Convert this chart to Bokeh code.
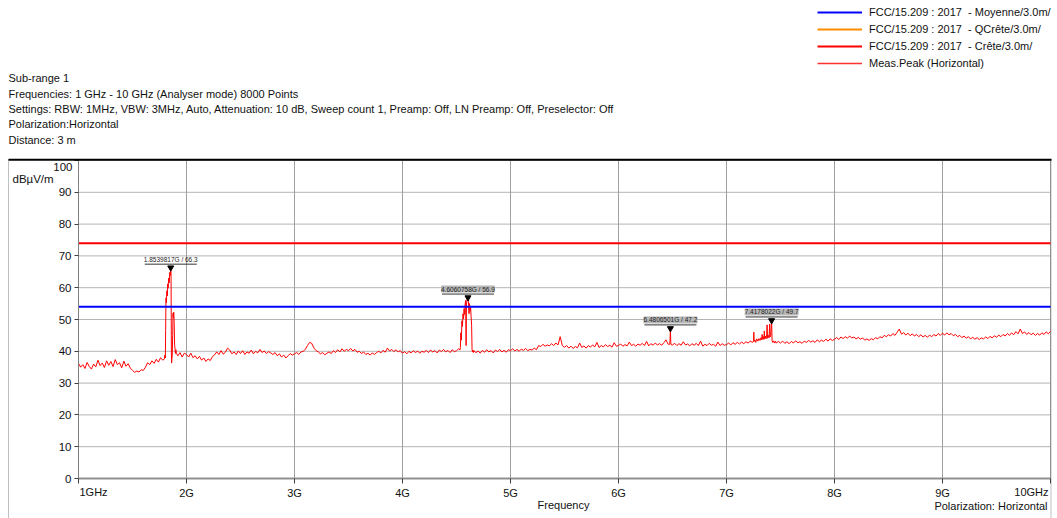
import numpy as np
from bokeh.plotting import figure
from bokeh.models import Label, BoxAnnotation, Legend, LegendItem, FixedTicker
from bokeh.embed import file_html
from bokeh.resources import INLINE

# ---------------- data ----------------
sweep_start_ghz = 1.0
sweep_step_ghz = 0.02
trace_levels = [
    36.2, 35.0, 35.8, 34.6, 36.5, 35.2, 34.4, 36.0, 35.1, 37.2, 35.5, 36.3, 34.9, 37.0, 35.6, 36.8, 35.2, 37.4, 35.8, 36.4, 34.8, 36.9, 35.3, 36.1, 34.7,
    34.0, 33.4, 33.8, 33.5, 34.2, 34.0, 35.0, 36.4, 35.8, 37.0, 36.2, 37.5, 36.6, 38.0, 37.2, 38.5, 60.0, 64.0, 38.0, 51.0, 40.0, 38.6, 39.6, 38.2, 39.4,
    39.0, 38.2, 39.4, 38.0, 38.6, 37.6, 38.4, 37.2, 37.9, 36.8, 37.6, 37.1, 38.3, 38.9, 39.8, 39.0, 40.2, 39.1, 39.7, 41.0, 40.4, 39.2, 39.8, 39.0, 40.1,
    39.3, 40.2, 39.0, 39.8, 39.4, 40.4, 39.2, 40.0, 39.5, 40.6, 39.6, 40.1, 39.3, 39.9, 39.5, 39.0, 39.6, 38.6, 39.2, 38.2, 38.8, 37.9, 38.6, 39.3, 38.8,
    39.2, 39.6, 39.0, 39.8, 40.0, 40.6, 41.8, 42.8, 42.5, 41.0, 40.2, 39.8, 39.2, 39.6, 38.9, 39.4, 39.8, 39.3, 40.2, 39.6, 40.5, 39.8, 40.8, 40.0, 40.6,
    40.2, 40.9, 40.1, 40.6, 39.7, 40.0, 39.3, 39.8, 39.0, 39.4, 38.8, 39.5, 39.0, 39.6, 40.0, 39.5, 40.3, 39.7, 41.0, 40.1, 40.6, 39.9, 40.5, 39.8, 40.2,
    39.4, 39.9, 39.2, 40.0, 39.5, 40.2, 39.6, 40.1, 39.4, 40.0, 39.7, 40.3, 39.6, 40.4, 39.8, 40.2, 39.5, 40.4, 39.9, 40.6, 39.8, 40.3, 39.6, 40.5, 39.9,
    40.2, 40.8, 48.0, 52.0, 54.0, 56.0, 54.0, 45.0, 40.2, 39.6, 40.1, 39.4, 40.3, 39.7, 40.5, 39.8, 40.2, 39.5, 40.4, 39.9, 40.6, 39.8, 40.3, 39.7, 40.5,
    40.2, 40.8, 40.1, 40.6, 40.0, 40.7, 40.3, 40.9, 40.2, 40.6, 40.4, 41.0, 40.5, 41.8, 41.5, 42.2, 41.6, 42.0, 41.7, 42.4, 41.8, 42.6, 42.0, 44.6, 41.8,
    41.3, 41.8, 41.0, 41.6, 40.9, 41.5, 41.1, 42.6, 41.2, 41.7, 41.0, 41.8, 41.3, 42.0, 41.4, 42.8, 41.2, 41.8, 41.4, 42.1, 41.5, 41.9, 41.3, 42.7, 41.6,
    41.8, 42.3, 41.6, 42.1, 41.7, 42.9, 41.8, 42.2, 41.6, 42.3, 41.9, 42.5, 41.8, 43.1, 41.7, 42.4, 41.9, 42.6, 42.0, 42.4, 41.9, 42.7, 43.6, 42.2, 42.5,
    42.0, 42.5, 41.8, 42.4, 41.9, 43.0, 42.0, 42.3, 41.7, 42.4, 41.9, 42.5, 41.8, 43.2, 41.6, 42.2, 41.8, 42.5, 41.9, 42.2, 41.6, 42.9, 41.8, 42.4, 41.9,
    42.1, 42.6, 42.0, 42.7, 42.2, 42.8, 42.3, 42.9, 42.4, 43.0, 42.6, 43.2, 42.8, 46.0, 42.9, 45.3, 43.5, 45.0, 48.3, 44.0, 48.6, 49.7, 43.0, 42.6, 43.1,
    42.6, 43.2, 42.5, 43.0, 42.4, 43.1, 42.6, 43.3, 42.7, 43.0, 42.5, 43.2, 42.8, 43.4, 42.9, 43.3, 42.8, 43.6, 43.0, 43.5, 43.1, 43.8, 43.2, 43.9, 43.4,
    43.8, 44.3, 43.7, 44.5, 44.0, 44.6, 44.1, 44.8, 44.2, 44.5, 43.9, 44.4, 43.8, 44.2, 43.5, 43.9, 43.4, 44.0, 43.6, 44.3, 43.9, 44.6, 44.2, 45.0, 44.6,
    45.2, 44.8, 45.6, 45.0, 46.0, 47.0, 45.4, 45.9, 45.1, 45.7, 44.9, 45.5, 44.8, 45.3, 44.6, 45.2, 44.5, 45.0, 44.4, 45.1, 44.6, 45.3, 44.8, 45.6, 45.0,
    45.7, 45.1, 45.8, 45.2, 45.6, 44.9, 45.3, 44.6, 45.0, 44.3, 44.8, 44.1, 44.6, 43.9, 44.4, 43.8, 44.3, 43.7, 44.2, 43.9, 44.5, 44.0, 44.7, 44.2, 44.9,
    44.4, 45.1, 44.6, 45.3, 44.8, 45.6, 45.0, 45.8, 45.2, 46.2, 45.5, 47.0, 45.6, 46.1, 45.3, 45.9, 45.2, 45.7, 45.0, 45.6, 45.1, 45.8, 45.3, 46.1, 45.5, 46.3,
]

# finer detail around the emissions
pk1_freq = [1.796, 1.800, 1.804, 1.807, 1.810, 1.814, 1.818, 1.822, 1.826, 1.830,
            1.835, 1.840, 1.845, 1.850, 1.8539817, 1.857, 1.860, 1.862, 1.865, 1.868,
            1.872, 1.875, 1.878, 1.882, 1.886, 1.890, 1.894, 1.898, 1.902, 1.906]
pk1_level = [37.6, 38.8, 37.9, 46.5, 56.8, 55.2, 59.0, 57.4, 61.2, 59.8,
             63.0, 61.5, 64.8, 63.9, 66.3, 64.5, 39.5, 36.3, 37.8, 38.6,
             45.0, 52.0, 50.6, 52.3, 49.0, 42.0, 40.6, 39.3, 40.5, 39.4]
pk2_freq = [4.532, 4.536, 4.540, 4.545, 4.550, 4.555, 4.560, 4.565, 4.570, 4.575,
            4.580, 4.585, 4.589, 4.592, 4.596, 4.600, 4.6060758, 4.611, 4.616, 4.620,
            4.625, 4.630, 4.635, 4.640, 4.644, 4.648, 4.652, 4.657]
pk2_level = [40.4, 41.2, 45.8, 43.5, 49.6, 47.8, 51.8, 50.2, 53.4, 51.6,
             54.8, 56.0, 41.8, 54.6, 55.8, 56.4, 56.9, 55.2, 51.8, 55.0,
             52.6, 54.2, 51.0, 48.2, 40.6, 39.8, 40.4, 39.6]
pk3_freq = [6.474, 6.477, 6.4806501, 6.484, 6.487]
pk3_level = [42.2, 43.4, 47.2, 42.8, 42.1]
pk4_freq = [7.246, 7.250, 7.253, 7.256, 7.262, 7.270, 7.280, 7.290, 7.300, 7.310,
            7.320, 7.326, 7.330, 7.334, 7.340, 7.346, 7.350, 7.354, 7.360, 7.366,
            7.372, 7.376, 7.380, 7.388, 7.394, 7.400, 7.404, 7.410, 7.4178022, 7.422,
            7.428, 7.436, 7.444, 7.452]
pk4_level = [42.9, 43.3, 46.0, 43.1, 43.6, 42.8, 43.9, 43.2, 44.0, 43.4,
             44.3, 43.6, 45.3, 43.8, 44.6, 43.7, 46.4, 44.0, 44.8, 43.9,
             45.2, 48.3, 44.1, 45.0, 44.2, 48.6, 44.5, 45.0, 49.7, 43.4,
             42.8, 43.3, 42.6, 43.2]

limit_freq = [1.0, 10.0]
avg_limit = [54.0, 54.0]
qp_limit = [float("nan"), float("nan")]   # no quasi-peak limit above 1 GHz
peak_limit = [74.0, 74.0]

marker_freq = [1.8539817, 4.6060758, 6.4806501, 7.4178022]
marker_level = [66.3, 56.9, 47.2, 49.7]

x_ticks = [1, 2, 3, 4, 5, 6, 7, 8, 9, 10]
x_tick_labels = ["1GHz", "2G", "3G", "4G", "5G", "6G", "7G", "8G", "9G", "10GHz"]
y_ticks = [0, 10, 20, 30, 40, 50, 60, 70, 80, 90, 100]

legend_labels = [
    "FCC/15.209 : 2017 \u00a0- Moyenne/3.0m/",
    "FCC/15.209 : 2017 \u00a0- QCrête/3.0m/",
    "FCC/15.209 : 2017 \u00a0- Crête/3.0m/",
    "Meas.Peak (Horizontal)",
]
header_lines = [
    "Sub-range 1",
    "Frequencies: 1 GHz - 10 GHz (Analyser mode) 8000 Points",
    "Settings: RBW: 1MHz, VBW: 3MHz, Auto, Attenuation: 10 dB, Sweep count 1, Preamp: Off, LN Preamp: Off, Preselector: Off",
    "Polarization:Horizontal",
    "Distance: 3 m",
]

# ---------------- build trace ----------------
base_f = sweep_start_ghz + sweep_step_ghz * np.arange(len(trace_levels))
base_l = np.array(trace_levels, dtype=float)
keep = np.ones(len(base_f), dtype=bool)
segs = [(pk1_freq, pk1_level), (pk2_freq, pk2_level), (pk3_freq, pk3_level), (pk4_freq, pk4_level)]
for f, _ in segs:
    keep &= ~((base_f >= min(f)) & (base_f <= max(f)))
all_f = np.concatenate([base_f[keep]] + [np.array(f) for f, _ in segs])
all_l = np.concatenate([base_l[keep]] + [np.array(l) for _, l in segs])
order = np.argsort(all_f)
trace_f = all_f[order]
trace_l = all_l[order]

# ---------------- figure ----------------
W, H = 1057, 518
L, R, T, B = 78, 1050, 160, 478   # pixel box of the data area 1..10 GHz / 0..100 dB
FONT = "Liberation Sans"
XPX = (R - L) / 9.0
YPX = (B - T) / 100.0


def px(xp):
    return 1 + (xp - L) / XPX


def py(yp):
    return (B - yp) / YPX


p = figure(width=W, height=H, x_range=(px(0), px(W)), y_range=(py(H), py(0)),
           output_backend="svg", toolbar_location=None,
           min_border_left=0, min_border_right=0, min_border_top=0, min_border_bottom=0)
p.outline_line_color = None
p.background_fill_color = "white"
p.border_fill_color = "white"
p.grid.visible = False

# grid lines limited to the data box
x_lo, x_hi = x_ticks[0], x_ticks[-1]
y_lo, y_hi = y_ticks[0], y_ticks[-1]
p.segment(x0=[x_lo] * len(y_ticks), x1=[x_hi] * len(y_ticks), y0=y_ticks, y1=y_ticks,
          line_color="#b4b4b4", line_width=1)
p.segment(x0=x_ticks, x1=x_ticks, y0=[y_lo] * len(x_ticks), y1=[y_hi] * len(x_ticks),
          line_color="#a0a0a0", line_width=1)

# axes drawn inside the canvas at fixed locations
p.xaxis.fixed_location = y_lo
p.xaxis.bounds = (x_lo, x_hi)
p.xaxis.ticker = FixedTicker(ticks=x_ticks, minor_ticks=[])
p.xaxis.major_label_overrides = {t: (lab if x_lo < t < x_hi else "") for t, lab in zip(x_ticks, x_tick_labels)}
p.xaxis.major_tick_out = 5
p.xaxis.major_tick_in = 0
p.xaxis.major_tick_line_color = "#404040"
p.xaxis.minor_tick_line_color = None
p.xaxis.axis_line_color = "#909090"
p.xaxis.axis_line_width = 2
p.xaxis.major_label_standoff = 3
p.xaxis.major_label_text_font = FONT
p.xaxis.major_label_text_font_size = "11px"
p.xaxis.major_label_text_color = "#111111"

p.yaxis.fixed_location = x_lo
p.yaxis.bounds = (y_lo, y_hi)
p.yaxis.ticker = FixedTicker(ticks=y_ticks, minor_ticks=[])
p.yaxis.major_label_overrides = {y_hi: ""}
p.yaxis.major_tick_out = 4
p.yaxis.major_tick_in = 0
p.yaxis.major_tick_line_color = "#404040"
p.yaxis.minor_tick_line_color = None
p.yaxis.axis_line_color = "#808080"
p.yaxis.major_label_standoff = 3
p.yaxis.major_label_text_font = FONT
p.yaxis.major_label_text_font_size = "11.5px"
p.yaxis.major_label_text_color = "#111111"

# traces
r_meas = p.line(trace_f, trace_l, line_color="#ff0000", line_width=1)
r_avg = p.line(limit_freq, avg_limit, line_color="#0000ff", line_width=2)
r_qp = p.line(limit_freq, qp_limit, line_color="#ff8c00", line_width=2)
r_pk = p.line(limit_freq, peak_limit, line_color="#ff0000", line_width=2)
r_meas_key = p.line(limit_freq, qp_limit, line_color="#ff3030", line_width=1.6)

# markers
p.scatter(marker_freq, marker_level, marker="inverted_triangle", size=6,
          fill_color="black", line_color="black")
hw = 26.0 / XPX
ul = 3.5 / YPX
p.segment(x0=[f - hw for f in marker_freq], x1=[f + hw for f in marker_freq],
          y0=[l + ul for l in marker_level], y1=[l + ul for l in marker_level],
          line_color="#333333", line_width=1)
bgs = [None, "#b8b8b8", "#b8b8b8", "#b8b8b8"]
for f, l, bg in zip(marker_freq, marker_level, bgs):
    p.add_layout(Label(x=f, y=l, y_offset=5, text=f"{f:.7f}G / {l:.1f}",
                       text_align="center", text_baseline="bottom",
                       text_font=FONT, text_font_size="6.5px", text_color="#222222",
                       background_fill_color=bg))

# frame borders
p.add_layout(BoxAnnotation(left=px(8), right=px(1050.5), top=py(159), bottom=py(560),
                           fill_alpha=0, line_color="#303030", line_width=1))
p.add_layout(BoxAnnotation(left=px(8), right=px(1051), top=py(158.3), bottom=py(160.3),
                           fill_color="black", fill_alpha=1, line_color=None))


def add_text(text, xp, yp, size="11px", align="left", color="#111111"):
    p.add_layout(Label(x=px(xp), y=py(yp), text=text, text_font=FONT,
                       text_font_size=size, text_align=align,
                       text_baseline="middle", text_color=color))


for i, line in enumerate(header_lines):
    add_text(line, 8, [77.5, 93.5, 108.5, 123.5, 139][i])

add_text("dBµV/m", 12, 178.5, size="11.5px")
add_text(str(y_hi), 72, 166, size="11.5px", align="right")
add_text(x_tick_labels[0], 79, 491.5)
add_text(x_tick_labels[-1], 1048, 491.5, align="right")
add_text("Frequency", 563, 504.5, align="center")
add_text("Polarization: Horizontal", 1047, 505, align="right")

# legend
legend = Legend(items=[LegendItem(label=legend_labels[0], renderers=[r_avg]),
                       LegendItem(label=legend_labels[1], renderers=[r_qp]),
                       LegendItem(label=legend_labels[2], renderers=[r_pk]),
                       LegendItem(label=legend_labels[3], renderers=[r_meas_key])],
                location=(817, H - 71),
                glyph_width=45, glyph_height=16, label_height=16, spacing=1,
                padding=0, margin=0, label_standoff=7,
                border_line_color=None, background_fill_alpha=0,
                label_text_font=FONT, label_text_font_size="11px",
                label_text_color="#111111")
p.add_layout(legend)

open("out.html", "w").write(file_html(p, INLINE))
